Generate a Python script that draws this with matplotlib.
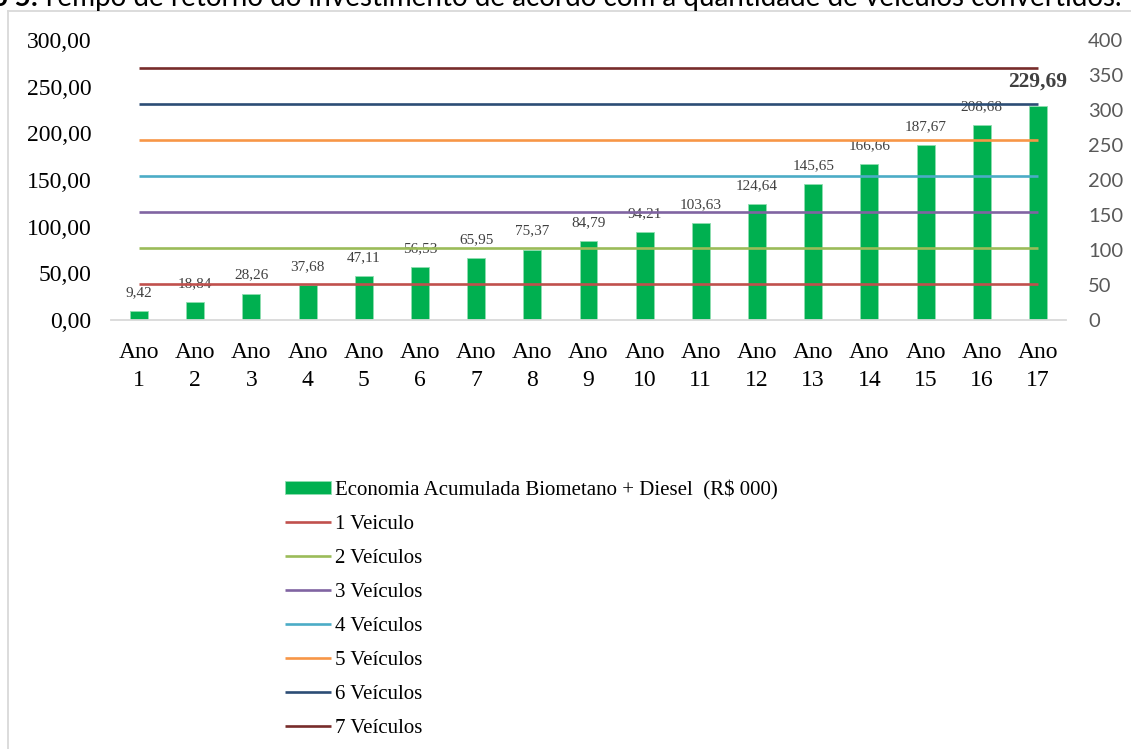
import matplotlib
matplotlib.use("Agg")
import matplotlib.pyplot as plt
from matplotlib.lines import Line2D

# ---- data -----------------------------------------------------------------
anos = [f"Ano\n{i}" for i in range(1, 18)]
economia = [9.42, 18.84, 28.26, 37.68, 47.11, 56.53, 65.95, 75.37, 84.79,
            94.21, 103.63, 124.64, 145.65, 166.66, 187.67, 208.68, 229.69]
economia_lbl = ["9,42", "18,84", "28,26", "37,68", "47,11", "56,53", "65,95",
                "75,37", "84,79", "94,21", "103,63", "124,64", "145,65",
                "166,66", "187,67", "208,68", "229,69"]
veic_nomes = ["1 Veiculo", "2 Veículos", "3 Veículos", "4 Veículos",
              "5 Veículos", "6 Veículos", "7 Veículos"]
veic_valor = [51.5, 103.0, 154.5, 206.0, 257.5, 309.0, 360.5]
veic_cores = ["#C0504D", "#9BBB59", "#8064A2", "#4BACC6", "#F79646",
              "#2C4D75", "#772C2A"]
left_ticks = [0, 50, 100, 150, 200, 250, 300]
right_ticks = [0, 50, 100, 150, 200, 250, 300, 350, 400]

W, H = 1131, 749
SERIF = "Liberation Serif"
fig = plt.figure(figsize=(W / 100, H / 100), dpi=100)

# chart frame (cut off at right/bottom like the screenshot)
fig.add_artist(Line2D([8 / W, 1], [1 - 11 / H, 1 - 11 / H], transform=fig.transFigure,
                      color="#D9D9D9", lw=1.3))
fig.add_artist(Line2D([8 / W, 8 / W], [1 - 11 / H, 0], transform=fig.transFigure,
                      color="#D9D9D9", lw=1.3))

# caption, only its lower part is visible (the page crops it)
t = fig.text(41 / W, 1 - 6 / H, "Tempo de retorno do investimento de acordo com a "
             "quantidade de veículos convertidos.", family="Lato",
             fontsize=17, va="baseline", ha="left", color="black")
fig.canvas.draw()
w = t.get_window_extent().width
t.set_fontsize(17 * 1077 / w)
fig.text(38 / W, 1 - 6 / H, "Gráfico 5:", family="Lato", fontweight="bold",
         fontsize=17 * 1077 / w, va="baseline", ha="right", color="black")

ax = fig.add_axes([111 / W, 1 - 320 / H, (1066 - 111) / W, (320 - 40) / H])
x = list(range(len(anos)))
bars = ax.bar(x, economia, width=0.32, color="#00B050", edgecolor="#8FDDB0",
              linewidth=0.6, label="Economia Acumulada Biometano + Diesel  (R$ 000)",
              zorder=2)
ax.set_xlim(-0.5, len(anos) - 0.5)
ax.set_ylim(0, 300)
ax.set_yticks(left_ticks)
ax.set_yticklabels([f"{v:.2f}".replace(".", ",") for v in left_ticks],
                   family=SERIF, fontsize=17)
ax.set_xticks(x)
ax.set_xticklabels(anos, family=SERIF, fontsize=17, linespacing=1.45)
ax.tick_params(axis="y", length=0, pad=14)
ax.tick_params(axis="x", length=0, pad=15.5)
for s in ("top", "left", "right"):
    ax.spines[s].set_visible(False)
ax.spines["bottom"].set_color("#D9D9D9")
ax.spines["bottom"].set_linewidth(1.3)

for i, (v, lbl) in enumerate(zip(economia, economia_lbl)):
    last = i == len(economia) - 1
    ax.annotate(lbl, (i, v), xytext=(0, 17.3 if last else 13.3),
                textcoords="offset points", ha="center", va="center",
                family=SERIF, fontsize=15.5 if last else 11,
                fontweight="bold" if last else "normal",
                color="#404040", zorder=5)

ax2 = ax.twinx()
ax2.set_ylim(0, 400)
ax2.set_yticks(right_ticks)
ax2.set_yticklabels([str(v) for v in right_ticks], family="Lato", fontsize=14.5,
                    color="#595959")
ax2.tick_params(axis="y", length=0, pad=16)
for s in ax2.spines.values():
    s.set_visible(False)
lines = []
for nome, val, cor in zip(veic_nomes, veic_valor, veic_cores):
    ln, = ax2.plot(x, [val] * len(x), color=cor, lw=1.9, label=nome,
                   solid_capstyle="butt")
    lines.append(ln)

fig.legend([bars] + lines, [bars.get_label()] + veic_nomes,
           loc="upper left", bbox_to_anchor=(285 / W, 1 - 480 / H),
           frameon=False, borderpad=0, borderaxespad=0,
           prop={"family": SERIF, "size": 15}, handlelength=2.2,
           handletextpad=0.2, labelspacing=0.72, handleheight=0.6)

fig.savefig("out.png", dpi=100)
